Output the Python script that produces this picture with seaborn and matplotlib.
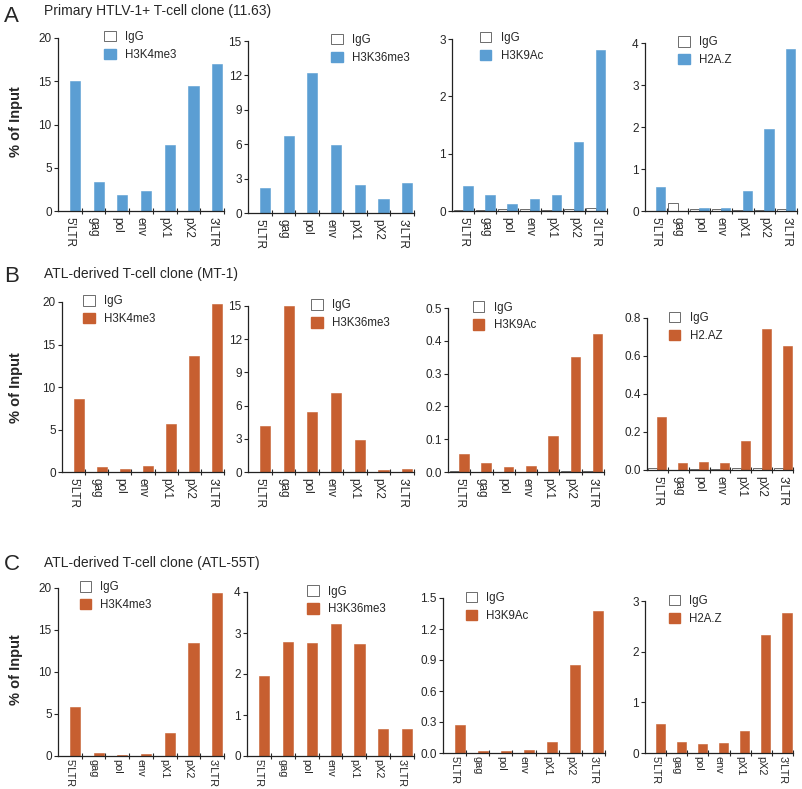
import pandas as pd
import numpy as np
import matplotlib.pyplot as plt
import matplotlib.patches as mpatches
from matplotlib.ticker import FixedLocator, FormatStrFormatter
import seaborn as sns

sns.set_style("ticks")
plt.rcParams['font.family'] = ['Liberation Sans', 'DejaVu Sans']

regions = ["5'LTR", "gag", "pol", "env", "pX1", "pX2", "3'LTR"]
marks = ['H3K4me3', 'H3K36me3', 'H3K9Ac', 'H2A.Z']
marks_mt1 = ['H3K4me3', 'H3K36me3', 'H3K9Ac', 'H2.AZ']

# Row A: primary clone 11.63
a_h3k4 = [15.0, 3.4, 1.8, 2.3, 7.6, 14.5, 17.0]
a_h3k36 = [2.2, 6.7, 12.2, 5.9, 2.4, 1.2, 2.6]
a_h3k9 = [0.44, 0.28, 0.12, 0.21, 0.28, 1.2, 2.8]
a_h2az = [0.57, 0.0, 0.07, 0.07, 0.47, 1.95, 3.85]
a_igg_h3k4 = [0.03, 0.02, 0.02, 0.02, 0.02, 0.03, 0.03]
a_igg_h3k36 = [0.02, 0.02, 0.02, 0.02, 0.02, 0.02, 0.02]
a_igg_h3k9 = [0.01, 0.01, 0.04, 0.04, 0.02, 0.03, 0.05]
a_igg_h2az = [0.01, 0.18, 0.05, 0.04, 0.02, 0.03, 0.05]

# Row B: MT-1
b_h3k4 = [8.6, 0.6, 0.3, 0.7, 5.6, 13.7, 19.8]
b_h3k36 = [4.2, 15.0, 5.4, 7.1, 2.9, 0.2, 0.3]
b_h3k9 = [0.056, 0.028, 0.015, 0.019, 0.11, 0.35, 0.42]
b_h2az = [0.28, 0.035, 0.042, 0.038, 0.155, 0.74, 0.655]
b_igg_h3k4 = [0.02, 0.02, 0.02, 0.02, 0.02, 0.02, 0.02]
b_igg_h3k36 = [0.02, 0.02, 0.02, 0.02, 0.02, 0.02, 0.02]
b_igg_h3k9 = [0.002, 0.001, 0.001, 0.001, 0.001, 0.002, 0.002]
b_igg_h2az = [0.01, 0.002, 0.005, 0.006, 0.01, 0.01, 0.01]

# Row C: ATL-55T
c_h3k4 = [5.8, 0.3, 0.15, 0.25, 2.7, 13.4, 19.4]
c_h3k36 = [1.95, 2.77, 2.75, 3.22, 2.72, 0.67, 0.67]
c_h3k9 = [0.27, 0.015, 0.015, 0.03, 0.11, 0.85, 1.37]
c_h2az = [0.58, 0.21, 0.18, 0.19, 0.43, 2.32, 2.77]
c_igg_h3k4 = [0.02, 0.02, 0.02, 0.02, 0.02, 0.02, 0.02]
c_igg_h3k36 = [0.005, 0.005, 0.005, 0.005, 0.005, 0.005, 0.005]
c_igg_h3k9 = [0.002, 0.002, 0.002, 0.002, 0.002, 0.002, 0.002]
c_igg_h2az = [0.005, 0.005, 0.005, 0.005, 0.005, 0.005, 0.005]

row_titles = ['Primary HTLV-1+ T-cell clone (11.63)',
              'ATL-derived T-cell clone (MT-1)',
              'ATL-derived T-cell clone (ATL-55T)']
row_letters = ['A', 'B', 'C']

BLUE = '#5b9ed3'
ORANGE = '#c75f30'

W, H = 802, 789
fig = plt.figure(figsize=(W / 100, H / 100), dpi=100)

# axes boxes in pixels: left, top, right, bottom
boxes = [
    [(58, 38, 224, 211), (248, 41, 414, 213), (452, 39, 607, 211), (645, 43, 797, 211)],
    [(62, 302, 224, 472), (248, 306, 414, 472), (448, 308, 604, 472), (647, 318, 793, 470)],
    [(58, 588, 224, 756), (247, 592, 414, 756), (443, 598, 605, 753), (645, 601, 793, 753)],
]
ylims = [[20, 15, 3, 4], [20, 15, 0.5, 0.8], [20, 4, 1.5, 3]]
ysteps = [[5, 3, 1, 1], [5, 3, 0.1, 0.2], [5, 1, 0.3, 1]]
yfmt = [[None] * 4, [None, None, '%.1f', '%.1f'], [None, None, '%.1f', None]]
leg_x = [[0.28, 0.5, 0.18, 0.22], [0.13, 0.38, 0.16, 0.15], [0.13, 0.36, 0.14, 0.16]]
xlab_size = [8.5, 8.5, 7.8]
xlab_pad = [4, 4, 2]

data = [
    [(a_h3k4, a_igg_h3k4), (a_h3k36, a_igg_h3k36), (a_h3k9, a_igg_h3k9), (a_h2az, a_igg_h2az)],
    [(b_h3k4, b_igg_h3k4), (b_h3k36, b_igg_h3k36), (b_h3k9, b_igg_h3k9), (b_h2az, b_igg_h2az)],
    [(c_h3k4, c_igg_h3k4), (c_h3k36, c_igg_h3k36), (c_h3k9, c_igg_h3k9), (c_h2az, c_igg_h2az)],
]
row_colors = [BLUE, ORANGE, ORANGE]
row_marks = [marks, marks_mt1, marks]

for r in range(3):
    color = row_colors[r]
    for c in range(4):
        l, t, rr, b = boxes[r][c]
        ax = fig.add_axes([l / W, 1 - b / H, (rr - l) / W, (b - t) / H])
        vals, igg = data[r][c]
        mark = row_marks[r][c]
        df = pd.DataFrame({
            'region': regions * 2,
            'ab': ['IgG'] * 7 + [mark] * 7,
            'value': igg + vals,
        })
        sns.barplot(data=df, x='region', y='value', hue='ab', order=regions,
                    hue_order=['IgG', mark], palette={'IgG': 'white', mark: color},
                    width=0.86, saturation=1, errorbar=None, legend=False, ax=ax)
        for p in ax.containers[0]:
            p.set_edgecolor('#555555')
            p.set_linewidth(0.6)
        for p in ax.containers[1]:
            p.set_edgecolor(color)
            p.set_linewidth(0.4)

        ymax = ylims[r][c]
        ax.set_ylim(0, ymax)
        ax.set_xlim(-0.5, 6.5)
        ax.set_yticks(np.arange(0, ymax + 1e-9, ysteps[r][c]))
        if yfmt[r][c]:
            ax.yaxis.set_major_formatter(FormatStrFormatter(yfmt[r][c]))
        ax.set_xlabel('')
        ax.set_ylabel('')
        ax.set_xticks(range(7))
        ax.set_xticklabels(regions, rotation=270, fontsize=xlab_size[r])
        ax.tick_params(axis='x', which='major', length=0, pad=xlab_pad[r])
        ax.xaxis.set_minor_locator(FixedLocator(np.arange(0.5, 7, 1)))
        ax.tick_params(axis='x', which='minor', direction='inout', length=4, width=0.8)
        ax.tick_params(axis='y', labelsize=8.5, length=3, width=0.8, pad=1.5)
        for s in ['top', 'right']:
            ax.spines[s].set_visible(False)
        for s in ['left', 'bottom']:
            ax.spines[s].set_linewidth(0.9)
            ax.spines[s].set_color('#222222')

        handles = [mpatches.Patch(facecolor='white', edgecolor='#555555', linewidth=0.6, label='IgG'),
                   mpatches.Patch(facecolor=color, edgecolor=color, label=mark)]
        ax.legend(handles=handles, loc='upper left', bbox_to_anchor=(leg_x[r][c], 1.04),
                  frameon=False, fontsize=8.3, handlelength=1.0, handleheight=1.0,
                  handletextpad=0.8, borderaxespad=0, borderpad=0, labelspacing=0.5)

# row letters, titles and y labels
letter_y = [16, 276, 564]
title_y = [11, 274, 563]
ylabel_y = [122, 388, 670]
for r in range(3):
    fig.text(4 / W, 1 - letter_y[r] / H, row_letters[r], fontsize=16, va='center', ha='left')
    fig.text(44 / W, 1 - title_y[r] / H, row_titles[r], fontsize=10, va='center', ha='left')
    fig.text(16 / W, 1 - ylabel_y[r] / H, '% of Input', fontsize=10.5, fontweight='bold',
             rotation=90, va='center', ha='center')

fig.savefig('out.png', dpi=100)
